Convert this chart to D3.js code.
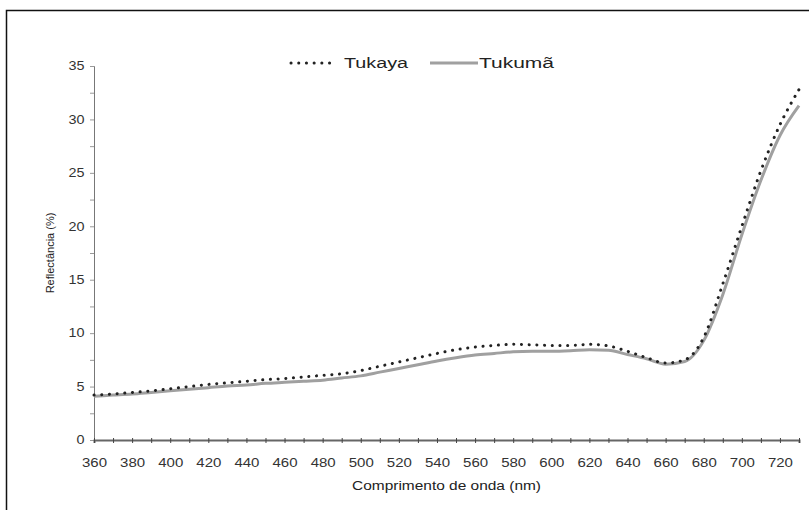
<!DOCTYPE html>
<html><head><meta charset="utf-8">
<script src="https://cdn.jsdelivr.net/npm/d3@7"></script>
<style>body{margin:0;background:#fff}svg{display:block}text{font-family:"Liberation Sans",Arial,sans-serif}</style>
</head><body><svg id="c" width="809" height="510"></svg>
<script>
const wavelengths = [360,370,380,390,400,410,420,430,440,450,460,470,480,490,500,510,520,530,540,550,560,570,580,590,600,610,620,630,640,650,660,670,680,690,700,710,720,730];
const tukaya = [4.2,4.3,4.45,4.6,4.8,5.0,5.2,5.35,5.5,5.65,5.75,5.9,6.05,6.2,6.5,6.9,7.3,7.7,8.1,8.45,8.7,8.85,8.95,8.9,8.85,8.85,8.95,8.8,8.3,7.7,7.2,7.5,9.6,14.6,20.0,25.2,29.5,32.8];
const tukuma = [4.1,4.2,4.3,4.45,4.6,4.75,4.9,5.05,5.15,5.3,5.4,5.5,5.6,5.8,6.0,6.35,6.7,7.05,7.4,7.7,7.95,8.1,8.25,8.3,8.3,8.35,8.45,8.4,8.0,7.6,7.1,7.35,9.3,13.6,19.2,24.3,28.5,31.3];
const xTicks = [360,380,400,420,440,460,480,500,520,540,560,580,600,620,640,660,680,700,720];
const yTicks = [0,5,10,15,20,25,30,35];
const seriesNames = ["Tukaya","Tukumã"];

const svg = d3.select("#c");
svg.append("rect").attr("x",6.5).attr("y",10.5).attr("width",820).attr("height",520)
  .attr("fill","none").attr("stroke","#111").attr("stroke-width",1.5);

const x = d3.scaleLinear().domain([360,730]).range([94,799]);
const y = d3.scaleLinear().domain([0,35]).range([440,66]);

// y axis
const ya = svg.append("g").attr("transform","translate(94,0)")
  .call(d3.axisLeft(y).tickValues(d3.range(0,35.1,2.5)).tickSize(4)
    .tickFormat(d => yTicks.includes(d) ? d : ""));
ya.select(".domain").attr("stroke","#777");
ya.selectAll(".tick line").attr("stroke","#999");
ya.selectAll("text").attr("font-size",12).attr("fill","#333").attr("x",-8)
  .attr("transform","scale(1.2,1)");

// x axis
const xa = svg.append("g").attr("transform","translate(0,440)")
  .call(d3.axisBottom(x).tickValues(d3.range(360,731,10)).tickSize(3)
    .tickFormat(d => xTicks.includes(d) ? d : ""));
xa.select(".domain").attr("stroke","#666").attr("stroke-width",2);
xa.selectAll(".tick line").attr("stroke","#444").attr("y1",-2);
xa.selectAll("text").attr("font-size",12).attr("fill","#333").attr("y",27).attr("dy",null)
  .attr("transform","scale(1.25,1)");

svg.append("text").attr("x",352).attr("y",490)
  .attr("font-size",12).attr("fill","#222").attr("textLength",189).attr("lengthAdjust","spacingAndGlyphs")
  .text("Comprimento de onda (nm)");
svg.append("text").attr("transform","translate(54,253) rotate(-90)").attr("text-anchor","middle")
  .attr("font-size",11).attr("fill","#222").text("Reflectância (%)");

const line = (vals) => d3.line().curve(d3.curveMonotoneX)
  .x((d,i) => x(wavelengths[i])).y(d => y(d))(vals);

svg.append("path").attr("d", line(tukuma)).attr("fill","none")
  .attr("stroke","#a0a0a0").attr("stroke-width",3);
svg.append("path").attr("d", line(tukaya)).attr("fill","none")
  .attr("stroke","#222").attr("stroke-width",3).attr("stroke-linecap","round")
  .attr("stroke-dasharray","0.1 7.6");

// legend
const lg = svg.append("g");
lg.append("line").attr("x1",291).attr("x2",337).attr("y1",63).attr("y2",63)
  .attr("stroke","#222").attr("stroke-width",3).attr("stroke-linecap","round").attr("stroke-dasharray","0.1 7.6");
lg.append("text").attr("x",344).attr("y",68).attr("font-size",15.5).attr("fill","#222")
  .attr("textLength",64).attr("lengthAdjust","spacingAndGlyphs").text(seriesNames[0]);
lg.append("line").attr("x1",430).attr("x2",478).attr("y1",63).attr("y2",63)
  .attr("stroke","#a0a0a0").attr("stroke-width",3);
lg.append("text").attr("x",479).attr("y",68).attr("font-size",15.5).attr("fill","#222")
  .attr("textLength",75).attr("lengthAdjust","spacingAndGlyphs").text(seriesNames[1]);
</script></body></html>
